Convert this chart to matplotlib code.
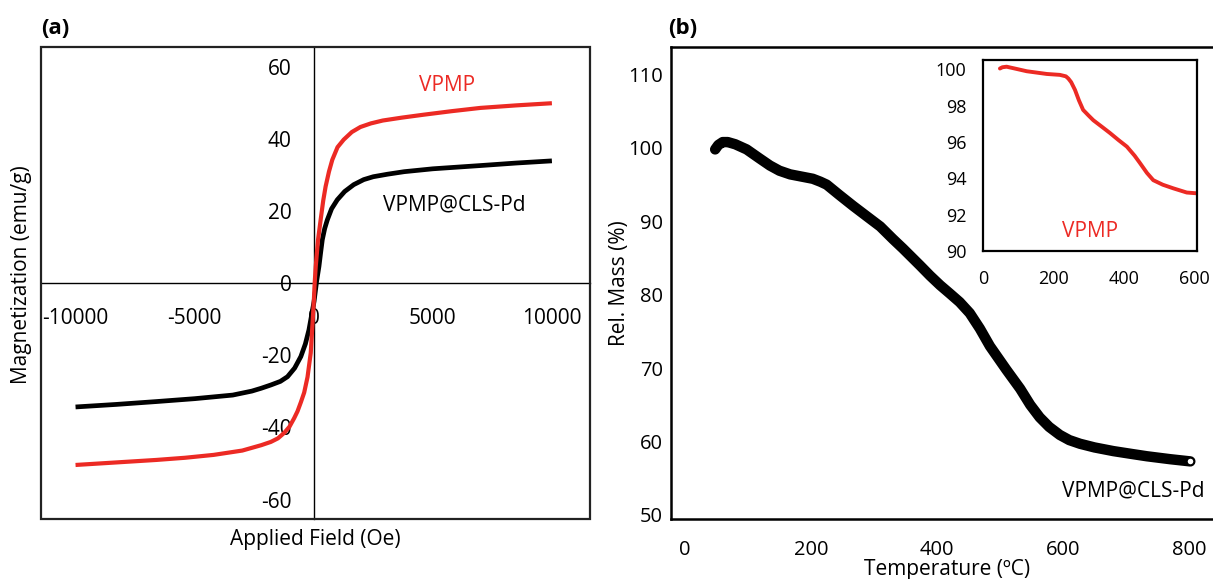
import matplotlib
matplotlib.use("Agg")
import matplotlib.pyplot as plt
from matplotlib.patches import Rectangle

plt.rcParams['font.family'] = ['Open Sans', 'DejaVu Sans']
plt.rcParams['axes.unicode_minus'] = False

RED = '#ec2a24'

# (a) magnetization loops
h_vpmp = [-10000, -8300, -6600, -5400, -4200, -3000, -2200, -1800, -1500, -1240, -1020,
          -820, -680, -540, -400, -260, -125, -40, 0, 40, 85, 180, 290, 400, 500, 640,
          780, 1000, 1260, 1600, 1960, 2400, 2900, 3700, 4600, 5800, 7000, 8500, 10000]
m_vpmp = [-50.4, -49.7, -49.0, -48.4, -47.6, -46.4, -44.9, -44.0, -43.0, -41.5, -39.8,
          -37.4, -35.5, -33.0, -30.3, -26.0, -19.3, -10.0, -5.5, 0.0, 4.7, 12.0, 17.6,
          23.0, 26.9, 31.0, 34.3, 37.8, 39.9, 42.0, 43.4, 44.4, 45.2, 46.0, 46.8, 47.8,
          48.7, 49.4, 50.0]
h_pd = [-10000, -8300, -6600, -5000, -3400, -2600, -2200, -1800, -1400, -1100, -800,
        -540, -350, -200, -80, 15, 120, 220, 290, 360, 460, 570, 750, 990, 1300, 1680,
        2100, 2500, 3100, 3800, 5000, 7000, 8500, 10000]
m_pd = [-34.3, -33.6, -32.8, -32.0, -31.0, -29.9, -29.1, -28.2, -27.2, -25.9, -23.5,
        -20.3, -16.8, -12.9, -8.5, -5.0, 0.5, 4.7, 8.5, 12.1, 15.2, 17.6, 20.7, 23.2,
        25.5, 27.4, 28.8, 29.6, 30.3, 31.0, 31.8, 32.7, 33.4, 34.0]
a_xticks = [-10000, -5000, 0, 5000, 10000]
a_yticks = [-60, -40, -20, 0, 20, 40, 60]

# (b) TGA of VPMP@CLS-Pd
t_pd = [48, 53, 60, 68, 80, 98, 118, 135, 150, 167, 185, 203, 215, 225, 245, 267, 290,
        310, 330, 346, 373, 389, 405, 420, 436, 452, 468, 484, 510, 532, 548, 563, 578,
        595, 610, 627, 650, 680, 710, 733, 770, 802]
w_pd = [99.8, 100.4, 100.8, 100.8, 100.5, 99.8, 98.6, 97.6, 96.9, 96.4, 96.1, 95.8, 95.4,
        95.0, 93.6, 92.1, 90.6, 89.3, 87.6, 86.3, 84.0, 82.6, 81.3, 80.2, 79.0, 77.5, 75.4,
        73.0, 69.8, 67.2, 65.0, 63.3, 62.0, 60.9, 60.2, 59.7, 59.2, 58.7, 58.3, 58.0,
        57.6, 57.3]
b_xticks = [0, 200, 400, 600, 800]
b_yticks = [50, 60, 70, 80, 90, 100, 110]

# inset: TGA of VPMP
t_vpmp = [48, 55, 67, 90, 124, 181, 218, 235, 242, 250, 261, 272, 284, 300, 313, 340, 360,
          385, 408, 430, 445, 465, 483, 510, 540, 578, 604]
w_vpmp = [100.05, 100.12, 100.15, 100.05, 99.9, 99.75, 99.7, 99.62, 99.5, 99.3, 98.87, 98.3,
          97.77, 97.45, 97.2, 96.8, 96.5, 96.1, 95.75, 95.25, 94.85, 94.3, 93.9, 93.65,
          93.45, 93.22, 93.18]
i_xticks = [0, 200, 400, 600]
i_yticks = [90, 92, 94, 96, 98, 100]

fig = plt.figure(figsize=(12.13, 5.79), dpi=100)

# ---- panel (a)
ax1 = fig.add_axes([0.0338, 0.1036, 0.4526, 0.8152])
ax1.plot(h_vpmp, m_vpmp, color=RED, lw=3.0, solid_capstyle='butt', zorder=3)
ax1.plot(h_pd, m_pd, color='black', lw=3.4, solid_capstyle='butt', zorder=2)
ax1.set_xlim(-11450, 11600)
ax1.set_ylim(-65.4, 65.6)
for s in ['top', 'right']:
    ax1.spines[s].set_visible(False)
ax1.spines['left'].set_position(('data', 0))
ax1.spines['bottom'].set_position(('data', 0))
ax1.spines['left'].set_linewidth(1.0)
ax1.spines['bottom'].set_linewidth(1.0)
ax1.add_patch(Rectangle((0, 0), 1, 1, transform=ax1.transAxes, fill=False,
                        lw=1.6, edgecolor='#222222', clip_on=False, zorder=5))
ax1.set_xticks(a_xticks)
ax1.set_yticks(a_yticks)
ax1.tick_params(axis='both', length=0, labelsize=15)
ax1.tick_params(axis='y', pad=16)
ax1.tick_params(axis='x', pad=18)
ax1.text(5600, 54.9, 'VPMP', color=RED, fontsize=15, ha='center', va='center')
ax1.text(5900, 21.8, 'VPMP@CLS-Pd', color='black', fontsize=15, ha='center', va='center')

# ---- panel (b)
ax2 = fig.add_axes([0.5532, 0.1036, 0.4468, 0.8152])
ax2.plot(t_pd, w_pd, color='black', lw=7.5, solid_capstyle='round', zorder=2)
ax2.plot(t_pd[-1:], w_pd[-1:], 'o', ms=5, mfc='white', mec='black', mew=1.0, zorder=3)
ax2.set_xlim(-22, 838)
ax2.set_ylim(49.45, 113.75)
ax2.spines['right'].set_visible(False)
for s in ['left', 'bottom', 'top']:
    ax2.spines[s].set_linewidth(1.8)
ax2.set_xticks(b_xticks)
ax2.set_yticks(b_yticks)
ax2.tick_params(axis='both', length=0, labelsize=14.5)
ax2.tick_params(axis='y', pad=6)
ax2.tick_params(axis='x', pad=15)
ax2.text(711, 53.3, 'VPMP@CLS-Pd', color='black', fontsize=15, ha='center', va='center')

# ---- inset
ax3 = fig.add_axes([0.8104, 0.5665, 0.1764, 0.3299])
ax3.plot(t_vpmp, w_vpmp, color=RED, lw=2.8, solid_capstyle='round')
ax3.set_xlim(0, 607)
ax3.set_ylim(90, 100.52)
for s in ax3.spines.values():
    s.set_linewidth(1.6)
ax3.set_xticks(i_xticks)
ax3.set_yticks(i_yticks)
ax3.tick_params(axis='both', length=0, labelsize=13)
ax3.tick_params(axis='y', pad=12)
ax3.tick_params(axis='x', pad=14)
ax3.text(303, 91.05, 'VPMP', color=RED, fontsize=15, ha='center', va='center')

# ---- labels
fig.text(22 / 1213, 1 - 275 / 579, 'Magnetization (emu/g)', rotation=90,
         fontsize=15, ha='center', va='center')
fig.text(315 / 1213, 1 - 539 / 579, 'Applied Field (Oe)', fontsize=15,
         ha='center', va='center')
fig.text(619 / 1213, 1 - 283 / 579, 'Rel. Mass (%)', rotation=90,
         fontsize=15, ha='center', va='center')
fig.text(947 / 1213, 1 - 569 / 579, 'Temperature (\u00baC)', fontsize=15,
         ha='center', va='center')
fig.text(55 / 1213, 1 - 28 / 579, '(a)', fontsize=16, fontweight='bold',
         ha='center', va='center')
fig.text(683 / 1213, 1 - 28 / 579, '(b)', fontsize=16, fontweight='bold',
         ha='center', va='center')

fig.savefig('out.png', dpi=100)
